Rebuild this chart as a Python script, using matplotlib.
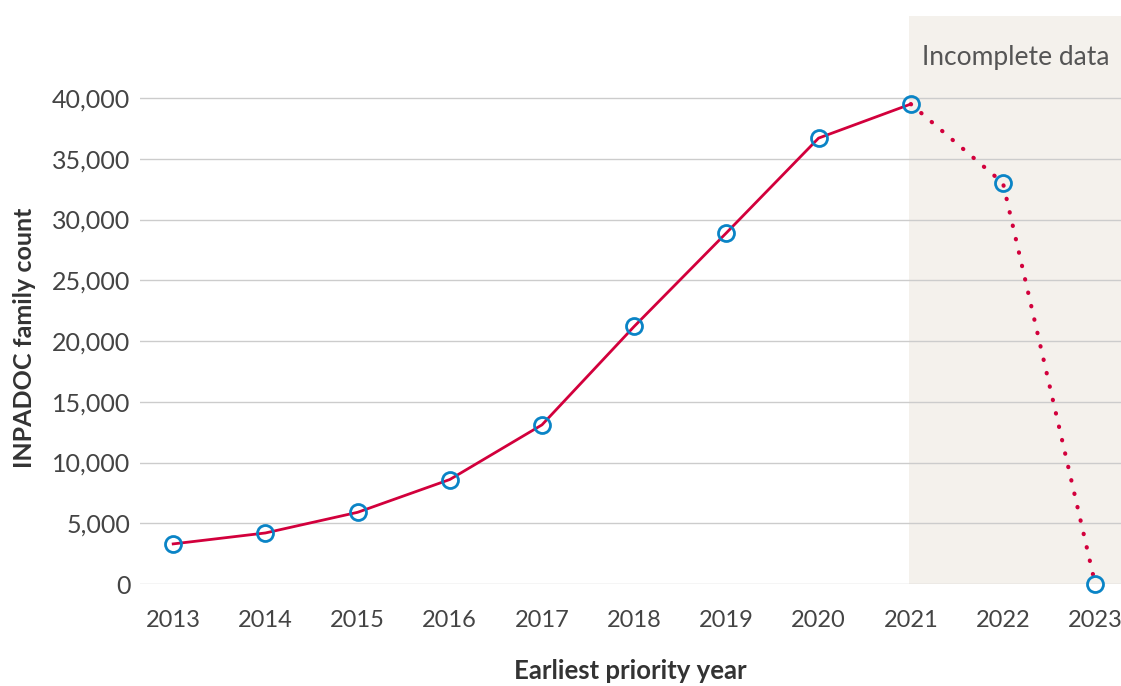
import matplotlib
matplotlib.use("Agg")
import matplotlib.pyplot as plt

years = [2013, 2014, 2015, 2016, 2017, 2018, 2019, 2020, 2021, 2022, 2023]
counts = [3300, 4200, 5900, 8600, 13100, 21200, 28900, 36700, 39500, 33000, 0]
complete_until = 2021
y_ticks = [0, 5000, 10000, 15000, 20000, 25000, 30000, 35000, 40000]

plt.rcParams['font.family'] = ['Lato', 'DejaVu Sans']

fig = plt.figure(figsize=(11.21, 6.86), dpi=100)
ax = fig.add_axes([140/1121, (686-584)/686, 1 - 140/1121, (584-16)/686])

ax.set_xlim(2012.64, 2023.28)
ax.set_ylim(0, 46750)

ax.axvspan(complete_until - 0.02, 2023.28, color='#F4F1EC', zorder=0, lw=0)

for t in y_ticks:
    ax.axhline(t, color='#CCCCCC', lw=1, zorder=1)

idx = years.index(complete_until)
red = '#D2003C'
blue = '#0A84C6'
ax.plot(years[:idx+1], counts[:idx+1], color=red, lw=2, zorder=3, clip_on=False)
ax.plot(years[idx:], counts[idx:], color=red, lw=3, linestyle=(0, (0.1, 3.2)),
        dash_capstyle='round', zorder=3, clip_on=False)
ax.plot(years, counts, linestyle='none', marker='o', markersize=11.5,
        markerfacecolor='none', markeredgecolor=blue, markeredgewidth=2, zorder=4, clip_on=False)

ax.text((complete_until + 2023.28) / 2, 43300, 'Incomplete data', ha='center', va='center',
        fontsize=19, color='#555555')

ax.set_yticks(y_ticks)
ax.set_yticklabels([f'{v:,}' for v in y_ticks])
ax.set_xticks(years)
ax.set_xticklabels([str(y) for y in years])
ax.tick_params(axis='both', length=0, labelcolor='#444444')
ax.tick_params(axis='y', pad=7, labelsize=18)
ax.tick_params(axis='x', pad=19, labelsize=17)

for s in ax.spines.values():
    s.set_visible(False)

ax.set_ylabel('INPADOC family count', fontsize=18, fontweight='bold', color='#333333')
ax.yaxis.set_label_coords(-0.106, 0.433)
ax.set_xlabel('Earliest priority year', fontsize=18.5, fontweight='bold', color='#333333', labelpad=20)

fig.savefig('out.png', dpi=100)
